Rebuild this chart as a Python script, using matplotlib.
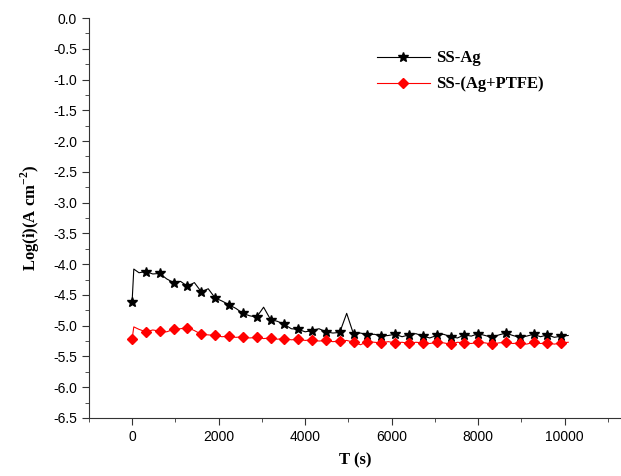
import matplotlib
matplotlib.use("Agg")
import matplotlib.pyplot as plt
from matplotlib.ticker import MultipleLocator

# time axis (s): start, the early jump, then every 160 s
t = [0, 40] + list(range(160, 10081, 160))

ss_ag = [-4.62, -4.08,
         -4.14, -4.12, -4.16, -4.15, -4.24, -4.30, -4.28, -4.36, -4.30, -4.45,
         -4.40, -4.55, -4.60, -4.66, -4.72, -4.80, -4.84, -4.86, -4.70, -4.90,
         -4.93, -4.98, -5.05, -5.06, -5.10, -5.08, -5.05, -5.10, -5.12, -5.11,
         -4.80, -5.14, -5.12, -5.15, -5.14, -5.17, -5.16, -5.14, -5.18, -5.15,
         -5.13, -5.17, -5.20, -5.16, -5.14, -5.18, -5.20, -5.15, -5.17, -5.13,
         -5.16, -5.19, -5.15, -5.12, -5.16, -5.19, -5.17, -5.14, -5.18, -5.15,
         -5.19, -5.17, -5.16]

ss_ag_ptfe = [-5.22, -5.02,
              -5.06, -5.10, -5.07, -5.09, -5.10, -5.06, -5.05, -5.03, -5.08, -5.14,
              -5.15, -5.16, -5.18, -5.17, -5.19, -5.18, -5.20, -5.19, -5.21, -5.20,
              -5.22, -5.21, -5.23, -5.22, -5.24, -5.23, -5.25, -5.24, -5.26, -5.25,
              -5.24, -5.27, -5.31, -5.26, -5.27, -5.28, -5.26, -5.28, -5.27, -5.29,
              -5.27, -5.28, -5.29, -5.27, -5.28, -5.30, -5.27, -5.28, -5.29, -5.27,
              -5.28, -5.30, -5.28, -5.27, -5.29, -5.28, -5.30, -5.27, -5.29, -5.28,
              -5.30, -5.28, -5.27]

plt.rcParams["font.family"] = ["Liberation Sans", "DejaVu Sans"]
plt.rcParams["mathtext.fontset"] = "custom"
plt.rcParams["mathtext.bf"] = "Liberation Serif:bold"
plt.rcParams["mathtext.rm"] = "Liberation Serif:bold"

fig = plt.figure(figsize=(6.21, 4.76), dpi=100)
ax = fig.add_axes([0.143, 0.122, 0.857, 0.84])

# markers roughly every 320 s
marks = [0] + list(range(3, len(t), 2))
ax.plot(t, ss_ag, color="black", lw=0.8, marker="*", ms=7,
        markevery=marks, label="SS-Ag")
ax.plot(t, ss_ag_ptfe, color="red", lw=0.8, marker="D", ms=5,
        markevery=marks, label="SS-(Ag+PTFE)")

ax.set_xlim(-1000, 11300)
ax.set_ylim(-6.5, 0.0)
ax.xaxis.set_major_locator(MultipleLocator(2000))
ax.xaxis.set_minor_locator(MultipleLocator(1000))
ax.yaxis.set_major_locator(MultipleLocator(0.5))
ax.yaxis.set_minor_locator(MultipleLocator(0.25))
ax.yaxis.set_major_formatter(matplotlib.ticker.FormatStrFormatter("%.1f"))
ax.tick_params(which="both", direction="out", labelsize=10, color="#333333")
ax.tick_params(which="major", length=5)
ax.tick_params(which="minor", length=3)
ax.spines["top"].set_visible(False)
ax.spines["right"].set_visible(False)
for s in ("left", "bottom"):
    ax.spines[s].set_color("#333333")

ax.set_xlabel("T (s)", fontfamily="Liberation Serif", fontweight="bold",
              fontsize=12, labelpad=6)
ax.set_ylabel(r"Log(i)(A cm$^{\mathbf{-2}}$)", fontfamily="Liberation Serif",
              fontweight="bold", fontsize=12, labelpad=8)

ax.legend(loc="upper left", bbox_to_anchor=(0.525, 0.94), frameon=False,
          handlelength=3.2, handletextpad=0.4, borderpad=0, labelspacing=0.6,
          prop={"family": "Liberation Serif", "weight": "bold", "size": 12})

fig.savefig("out.png", dpi=100)
